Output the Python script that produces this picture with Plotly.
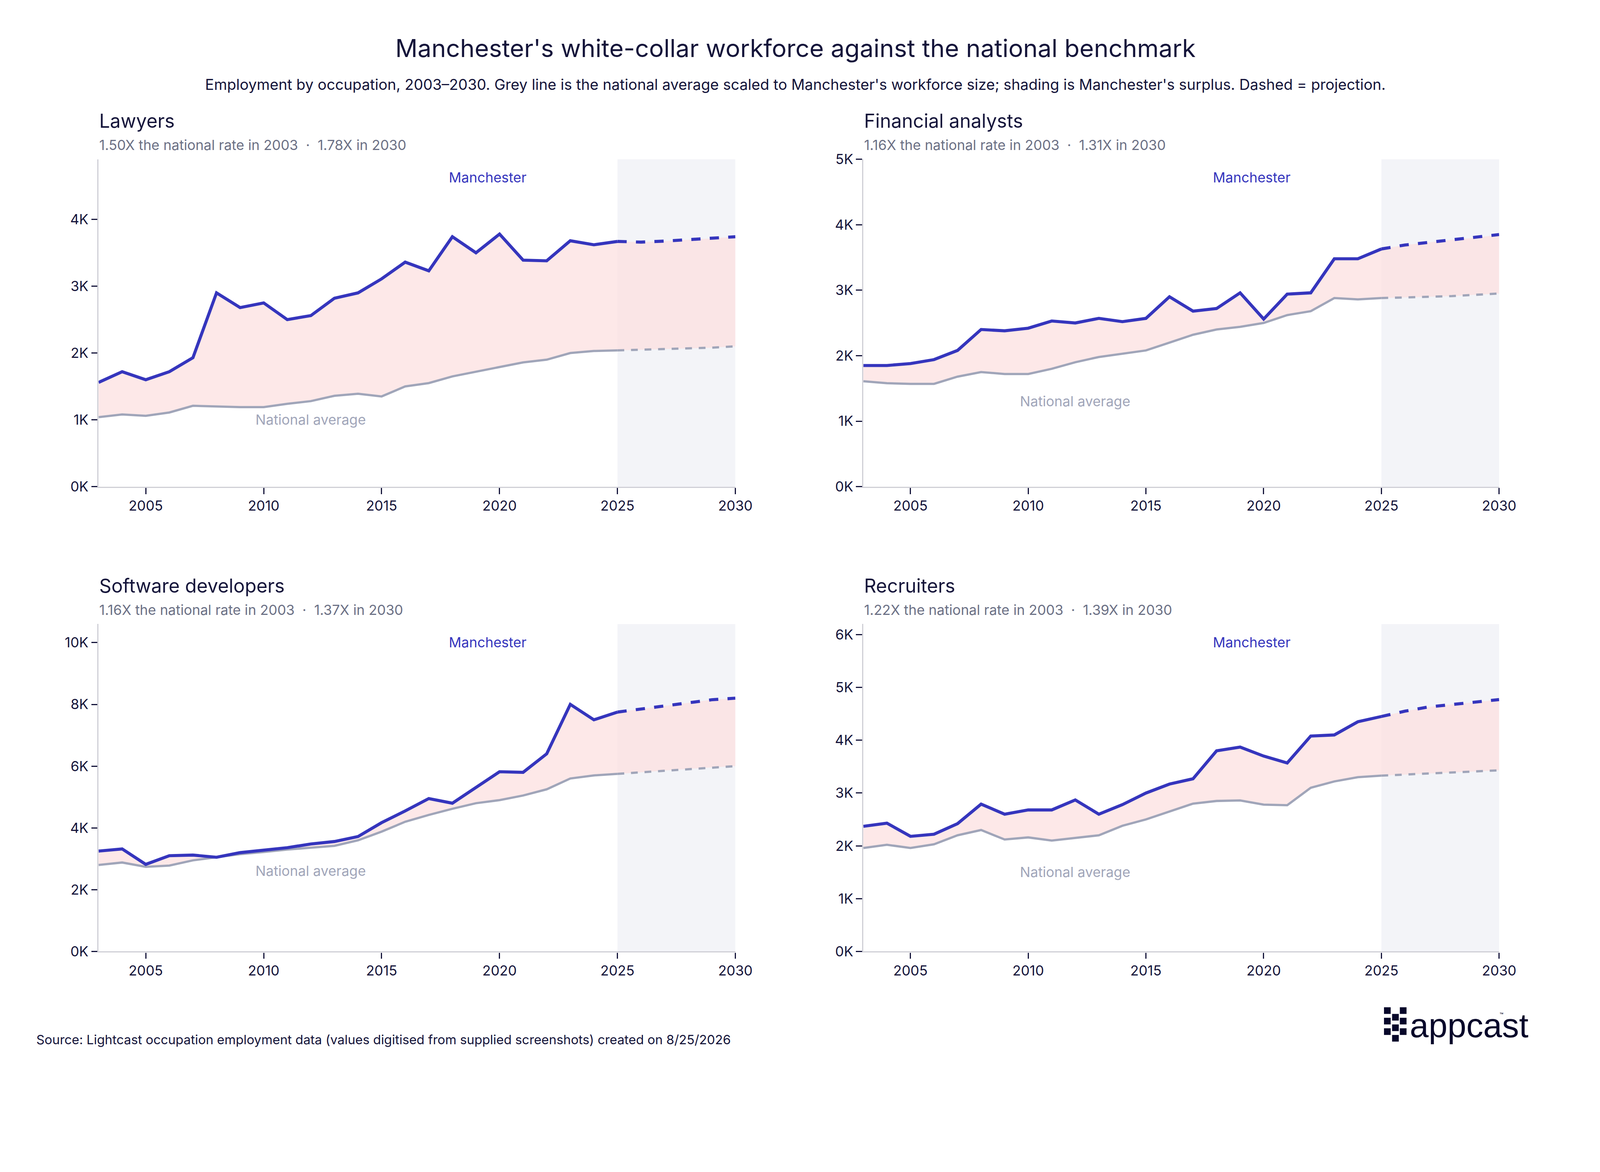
import plotly.graph_objects as go

years = list(range(2003, 2031))
ACTUAL_END = 2025  # last actual year, dashed after this

panel_names = ["Lawyers", "Financial analysts", "Software developers", "Recruiters"]
panel_notes = [
    "1.50X the national rate in 2003  ·  1.78X in 2030",
    "1.16X the national rate in 2003  ·  1.31X in 2030",
    "1.16X the national rate in 2003  ·  1.37X in 2030",
    "1.22X the national rate in 2003  ·  1.39X in 2030",
]

lawyers_mcr = [1560, 1720, 1600, 1720, 1930, 2900, 2680, 2750, 2500, 2560, 2820, 2900, 3110, 3360,
               3230, 3740, 3500, 3780, 3390, 3380, 3680, 3620, 3670, 3660, 3675, 3695, 3715, 3740]
lawyers_nat = [1040, 1080, 1060, 1110, 1210, 1200, 1190, 1190, 1240, 1280, 1360, 1390, 1350, 1500,
               1550, 1650, 1720, 1790, 1860, 1900, 2000, 2030, 2040, 2050, 2060, 2070, 2080, 2100]
fin_mcr = [1850, 1850, 1880, 1940, 2080, 2400, 2380, 2420, 2530, 2500, 2570, 2520, 2570, 2900,
           2680, 2720, 2960, 2560, 2940, 2960, 3480, 3480, 3630, 3690, 3730, 3770, 3800, 3850]
fin_nat = [1610, 1580, 1570, 1570, 1680, 1750, 1720, 1720, 1800, 1900, 1980, 2030, 2080, 2200,
           2320, 2400, 2440, 2500, 2620, 2680, 2880, 2860, 2880, 2890, 2900, 2910, 2930, 2950]
soft_mcr = [3250, 3320, 2820, 3100, 3120, 3050, 3200, 3280, 3360, 3480, 3560, 3720, 4170, 4550,
            4950, 4800, 5300, 5820, 5800, 6400, 8000, 7500, 7750, 7850, 7950, 8050, 8150, 8200]
soft_nat = [2800, 2880, 2740, 2780, 2950, 3050, 3150, 3220, 3300, 3360, 3420, 3600, 3880, 4200,
            4420, 4620, 4800, 4900, 5050, 5250, 5600, 5700, 5750, 5800, 5860, 5910, 5960, 6000]
rec_mcr = [2370, 2430, 2180, 2220, 2420, 2790, 2600, 2680, 2680, 2870, 2600, 2780, 3000, 3170,
           3270, 3800, 3870, 3700, 3570, 4080, 4100, 4350, 4450, 4550, 4630, 4680, 4720, 4770]
rec_nat = [1960, 2020, 1960, 2030, 2200, 2300, 2120, 2160, 2100, 2150, 2200, 2380, 2500, 2650,
           2800, 2850, 2860, 2780, 2770, 3100, 3220, 3300, 3330, 3350, 3370, 3390, 3410, 3430]

mcr_series = [lawyers_mcr, fin_mcr, soft_mcr, rec_mcr]
nat_series = [lawyers_nat, fin_nat, soft_nat, rec_nat]
y_max = [4900, 5000, 10600, 6200]
y_ticks = [[0, 1000, 2000, 3000, 4000], [0, 1000, 2000, 3000, 4000, 5000],
           [0, 2000, 4000, 6000, 8000, 10000], [0, 1000, 2000, 3000, 4000, 5000, 6000]]
nat_label_y = [1000, 1300, 2600, 1500]

# the page gets shown zoomed ~1.1x, so lay out a smaller figure that fills the window
W, H = 4100, 2733
S = W / 1560  # design was sketched at 1560 px wide
RW, RH = 4500, 3000  # reference pixel grid, used for logo placement
FONT = "Inter"
BLUE = "#3535BD"
GREY = "#A0A5B9"
DARK = "#14143A"
MUTED = "#6B7085"

x_doms = [(94 / 1560, 721 / 1560), (847 / 1560, 1473 / 1560)]
y_doms = [(1 - 470 / 1040, 1 - 146 / 1040), (1 - 930 / 1040, 1 - 606 / 1040)]

fig = go.Figure()
layout = dict(width=W, height=H, margin=dict(l=0, r=0, t=0, b=0), plot_bgcolor="white",
              paper_bgcolor="white", showlegend=False, font=dict(family=FONT, color=DARK))
shapes, annotations = [], []

n_act = years.index(ACTUAL_END) + 1
for i in range(4):
    r, c = divmod(i, 2)
    ax = "" if i == 0 else str(i + 1)
    xa, ya = "x" + ax, "y" + ax
    mcr, nat = mcr_series[i], nat_series[i]

    # surplus fill
    fig.add_trace(go.Scatter(x=years, y=nat, mode="lines", line=dict(width=0), xaxis=xa, yaxis=ya,
                             hoverinfo="skip"))
    fig.add_trace(go.Scatter(x=years, y=mcr, mode="lines", line=dict(width=0), fill="tonexty",
                             fillcolor="rgba(252,222,222,0.7)", xaxis=xa, yaxis=ya, hoverinfo="skip"))
    # lines: actual solid, projection dashed
    for vals, col, w in [(nat, GREY, 2.2 * S), (mcr, BLUE, 3 * S)]:
        fig.add_trace(go.Scatter(x=years[:n_act], y=vals[:n_act], mode="lines",
                                 line=dict(color=col, width=w), xaxis=xa, yaxis=ya))
        fig.add_trace(go.Scatter(x=years[n_act - 1:], y=vals[n_act - 1:], mode="lines",
                                 line=dict(color=col, width=w, dash="dash"), xaxis=xa, yaxis=ya))

    layout["xaxis" + ax] = dict(domain=x_doms[c], anchor=ya, range=[2003, 2030],
                                tickvals=[2005, 2010, 2015, 2020, 2025, 2030], ticks="outside",
                                ticklen=6 * S, tickwidth=1 * S, tickcolor=DARK, showgrid=False,
                                showline=True, linecolor="#CFCFD6", linewidth=1.2 * S,
                                tickfont=dict(size=13.5 * S, color=DARK), zeroline=False)
    layout["yaxis" + ax] = dict(domain=y_doms[r], anchor=xa, range=[0, y_max[i]],
                                tickvals=y_ticks[i], ticktext=[f"{v // 1000}K" for v in y_ticks[i]],
                                ticks="outside", ticklen=6 * S, tickwidth=1 * S, tickcolor=DARK,
                                showgrid=False, showline=True, linecolor="#CFCFD6",
                                linewidth=1.2 * S, tickfont=dict(size=13.5 * S, color=DARK),
                                zeroline=False)

    # projection shading
    shapes.append(dict(type="rect", xref=xa, yref="paper", x0=ACTUAL_END, x1=2030,
                       y0=y_doms[r][0], y1=y_doms[r][1], fillcolor="#F3F4F8", line=dict(width=0),
                       layer="below"))

    left = x_doms[c][0]
    top = y_doms[r][1]
    annotations.append(dict(text=panel_names[i], xref="paper", yref="paper", x=left, y=top + 38 / 1040,
                            xanchor="left", yanchor="middle", showarrow=False,
                            font=dict(size=18.5 * S, color=DARK)))
    annotations.append(dict(text=panel_notes[i], xref="paper", yref="paper", x=left, y=top + 14 / 1040,
                            xanchor="left", yanchor="middle", showarrow=False,
                            font=dict(size=13.5 * S, color=MUTED)))
    annotations.append(dict(text="Manchester", xref=xa, yref="paper", x=2019.5, y=top - 18 / 1040,
                            xanchor="center", yanchor="middle", showarrow=False,
                            font=dict(size=13.5 * S, color=BLUE)))
    annotations.append(dict(text="National average", xref=xa, yref=ya, x=2012, y=nat_label_y[i],
                            xanchor="center", yanchor="middle", showarrow=False,
                            font=dict(size=13.5 * S, color=GREY)))

annotations.append(dict(text="Manchester's white-collar workforce against the national benchmark",
                        xref="paper", yref="paper", x=0.5, y=1 - 36 / 1040, xanchor="center",
                        yanchor="middle", showarrow=False, font=dict(size=24 * S, color=DARK)))
annotations.append(dict(text="Employment by occupation, 2003–2030. Grey line is the national average scaled to "
                             "Manchester's workforce size; shading is Manchester's surplus. Dashed = projection.",
                        xref="paper", yref="paper", x=0.5, y=1 - 72 / 1040, xanchor="center",
                        yanchor="middle", showarrow=False, font=dict(size=14.5 * S, color=DARK)))
annotations.append(dict(text="Source: Lightcast occupation employment data (values digitised from supplied "
                             "screenshots) created on 8/25/2026",
                        xref="paper", yref="paper", x=32 / 1560, y=1 - 1017 / 1040, xanchor="left",
                        yanchor="middle", showarrow=False, font=dict(size=12.5 * S, color=DARK)))

# appcast logo: squares plus wordmark
sq = 19
for cx, cys in [(3922, [2842, 2872, 2902]), (3945, [2861, 2891, 2921]), (3967, [2842, 2872, 2902])]:
    for cy in cys:
        shapes.append(dict(type="rect", xref="paper", yref="paper", x0=cx / RW, x1=(cx + sq) / RW,
                           y0=1 - (cy + sq) / RH, y1=1 - cy / RH, fillcolor="#07072A",
                           line=dict(width=0)))
annotations.append(dict(text="appcast", xref="paper", yref="paper", x=3993 / RW, y=1 - 2893 / RH,
                        xanchor="left", yanchor="middle", showarrow=False,
                        font=dict(family="Liberation Sans", size=33 * S, color="#07072A")))
annotations.append(dict(text="™", xref="paper", yref="paper", x=4248 / RW, y=1 - 2864 / RH,
                        xanchor="left", yanchor="middle", showarrow=False,
                        font=dict(size=6 * S, color="#07072A")))

layout["shapes"] = shapes
layout["annotations"] = annotations
fig.update_layout(**layout)
fig.write_html("out.html")
